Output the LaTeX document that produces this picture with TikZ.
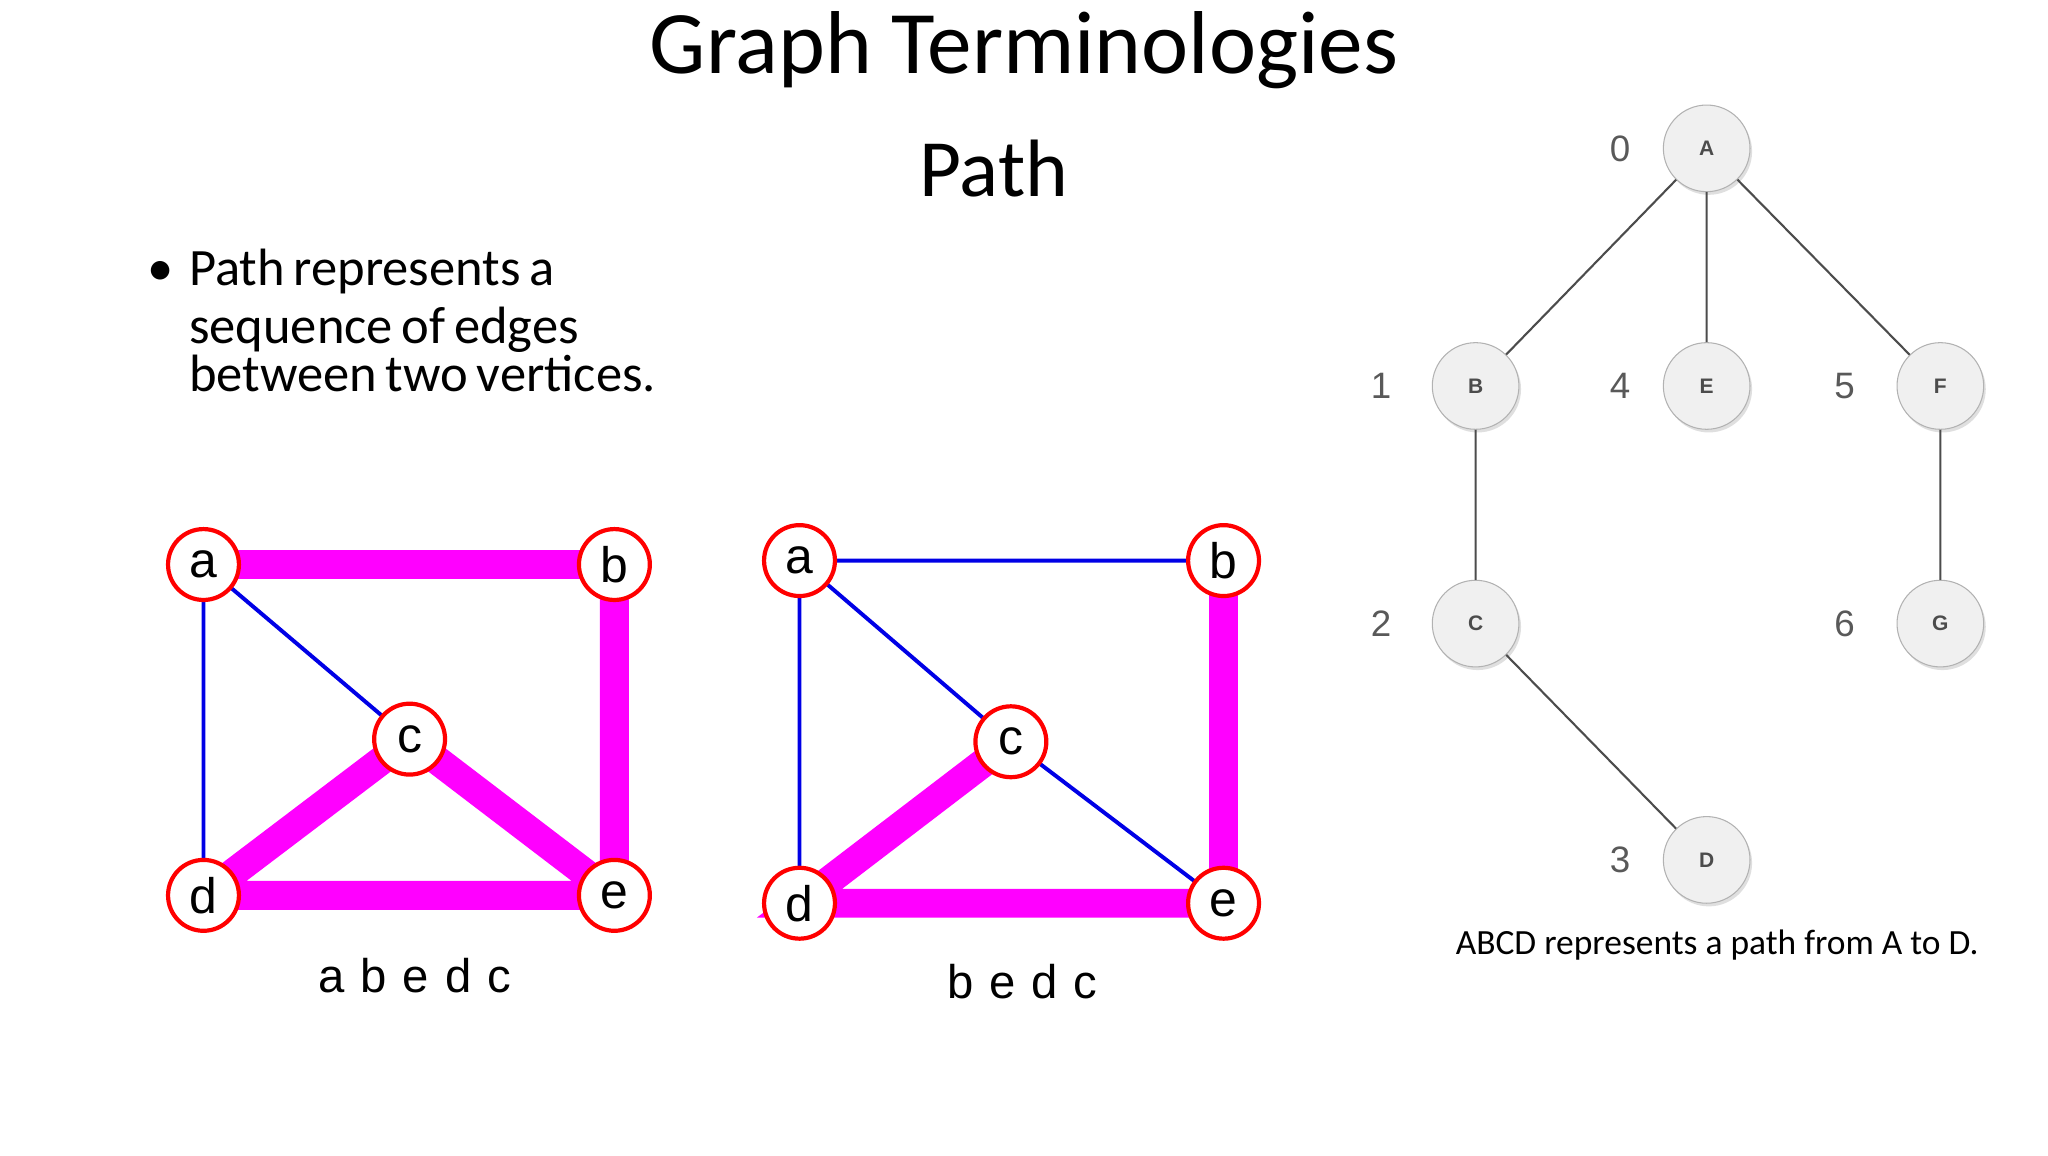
\documentclass[tikz,border=0pt]{standalone}
\usepackage{fontspec}
\setmainfont{Carlito}
\newfontfamily\arial{Liberation Sans}
\usetikzlibrary{shadows}
\definecolor{mag}{RGB}{255,0,255}
\definecolor{blu}{RGB}{0,0,230}
\begin{document}
\begin{tikzpicture}[x=0.5pt,y=-0.5pt,
  rv/.style={circle,draw=red,line width=1.6pt,fill=white,minimum size=27pt,inner sep=0pt,font=\arial\fontsize{19}{19}\selectfont},
  pe/.style={draw=mag,line width=11pt},
  be/.style={draw=blu,line width=1.5pt},
  gv/.style={circle,draw=gray!60,fill=gray!12,minimum size=33pt,inner sep=0pt,font=\arial\bfseries\fontsize{8}{8}\selectfont,text=gray!60!black,drop shadow={shadow xshift=0.8pt,shadow yshift=-1.2pt,fill=gray!50}},
  ge/.style={draw=gray!60!black,line width=0.8pt},
  num/.style={font=\arial\fontsize{14}{14}\selectfont,text=gray!70!black}]
\useasboundingbox (0,0) rectangle (1560,880);
\node (t1) at (780,38) {\fontsize{34}{34}\selectfont Graph Terminologies};
\node (t2) at (757,128) {\fontsize{31}{31}\selectfont Path};
\node[anchor=north west,align=left,text width=460] (bl) at (105,183)
 {\fontsize{20}{22}\selectfont \makebox[16pt][l]{\textbullet}Path represents a\\ \hspace*{16pt}sequence of edges\\ \hspace*{16pt}between two vertices.};
% left graph
\coordinate (la) at (155,430); \coordinate (lb) at (468,430); \coordinate (lc) at (312,563);
\coordinate (ld) at (155,682); \coordinate (le) at (468,682);
\draw[be] (la)--(ld) (la)--(lc);
\draw[pe] (la)--(lb)--(le)--(ld) (ld)--(lc)--(le);
\foreach \n/\l in {la/a,lb/b,lc/c,ld/d,le/e} \node[rv] (n\n) at (\n) {\l};
\node[font=\arial\fontsize{18}{18}\selectfont] (lcap) at (316,743) {a\,\,b\,\,e\,\,d\,\,c};
% middle graph
\coordinate (ma) at (609,427); \coordinate (mb) at (932,427); \coordinate (mc) at (770,565);
\coordinate (md) at (609,688); \coordinate (me) at (932,688);
\draw[be] (ma)--(mb) (ma)--(md) (ma)--(mc)--(me);
\draw[pe] (mb)--(me)--(md)--(mc);
\foreach \n/\l in {ma/a,mb/b,mc/c,md/d,me/e} \node[rv] (n\n) at (\n) {\l};
\node[font=\arial\fontsize{18}{18}\selectfont] (mcap) at (779,748) {b\,\,e\,\,d\,\,c};
% right graph
\node[gv] (A) at (1300,113) {A};
\node[gv] (B) at (1124,294) {B};
\node[gv] (E) at (1300,294) {E};
\node[gv] (F) at (1478,294) {F};
\node[gv] (C) at (1124,475) {C};
\node[gv] (G) at (1478,475) {G};
\node[gv] (D) at (1300,655) {D};
\draw[ge] (A)--(B) (A)--(E) (A)--(F) (B)--(C) (F)--(G) (C)--(D);
\node[num] (n0) at (1234,113) {0};
\node[num] (n1) at (1052,294) {1};
\node[num] (n4) at (1234,294) {4};
\node[num] (n5) at (1405,294) {5};
\node[num] (n2) at (1052,475) {2};
\node[num] (n6) at (1405,475) {6};
\node[num] (n3) at (1234,655) {3};
\node (rcap) at (1308,720) {\fontsize{13.5}{14}\selectfont ABCD represents a path from A to D.};
\end{tikzpicture}
\end{document}
